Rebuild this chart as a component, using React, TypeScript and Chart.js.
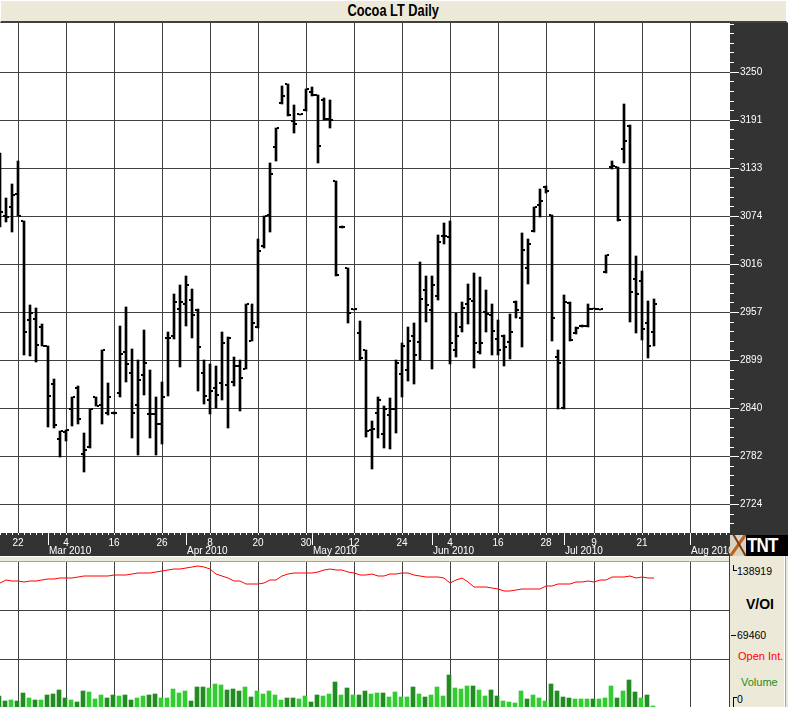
import React, { useEffect, useRef } from "react";
import { Chart, registerables } from "chart.js";

Chart.register(...registerables);

// ---------- DATA ----------
// trading-day index 0 = 17 Feb 2010 (one bar per session)
const openPrices = [
  3100, 3074, 3086, 3101, 3068, 2948, 2949, 2940, 2917, 2870,
  2803, 2812, 2840, 2865, 2785, 2794, 2855, 2845, 2835, 2835,
  2859, 2909, 2884, 2845, 2881, 2834, 2834, 2821, 2926, 2928,
  2962, 2968, 2972, 2960, 2884, 2851, 2865, 2872, 2869, 2873,
  2892, 2889, 2922, 2940, 3038, 3076, 3159, 3212, 3235, 3190,
  3198, 3203, 3225, 3222, 3216, 3192, 3117, 3061, 3011, 2961,
  2932, 2912, 2814, 2835, 2809, 2832, 2840, 2882, 2887, 2928,
  2921, 2985, 2960, 2977, 3050, 3049, 2911, 2940, 2967, 2971,
  2909, 2958, 2954, 2925, 2929, 2921, 2970, 2951, 3011, 3056,
  3088, 3110, 3076, 2903, 2841, 2969, 2932, 2941, 2941, 2962,
  2961, 3007, 3134, 3134, 3156, 3184, 2998, 2996, 2945, 2934,
];
const highPrices = [
  3151, 3096, 3114, 3141, 3068, 2966, 2963, 2943, 2917, 2876,
  2813, 2814, 2855, 2868, 2811, 2840, 2855, 2911, 2872, 2836,
  2941, 2964, 2913, 2899, 2936, 2887, 2855, 2873, 2933, 2980,
  2991, 3001, 2986, 2962, 2900, 2895, 2892, 2934, 2927, 2903,
  2900, 2968, 2968, 3046, 3074, 3139, 3182, 3233, 3235, 3210,
  3199, 3229, 3232, 3222, 3218, 3215, 3117, 3062, 3011, 2962,
  2947, 2912, 2825, 2855, 2843, 2853, 2900, 2920, 2940, 2944,
  3019, 3001, 3001, 3051, 3066, 3069, 2957, 2970, 2992, 3005,
  3000, 2984, 2967, 2948, 2930, 2955, 2971, 3054, 3046, 3085,
  3107, 3111, 3076, 2911, 2978, 2970, 2939, 2942, 2968, 2963,
  2962, 3027, 3142, 3134, 3211, 3185, 3026, 3008, 2971, 2973,
];
const lowPrices = [
  3061, 3067, 3055, 3074, 2906, 2904, 2897, 2916, 2818, 2817,
  2782, 2801, 2819, 2821, 2763, 2792, 2844, 2821, 2833, 2834,
  2855, 2873, 2805, 2784, 2857, 2805, 2784, 2797, 2856, 2925,
  2891, 2941, 2926, 2862, 2846, 2834, 2841, 2851, 2817, 2868,
  2837, 2888, 2922, 2938, 3036, 3055, 3141, 3211, 3196, 3176,
  3197, 3202, 3221, 3139, 3191, 3181, 3001, 3060, 2945, 2960,
  2900, 2806, 2767, 2805, 2792, 2791, 2811, 2855, 2874, 2870,
  2900, 2946, 2889, 2972, 3040, 2895, 2903, 2933, 2943, 2890,
  2907, 2934, 2906, 2905, 2892, 2901, 2950, 2915, 2992, 3055,
  3073, 3103, 2922, 2840, 2840, 2923, 2931, 2940, 2939, 2961,
  2960, 3005, 3132, 3068, 3139, 2946, 2932, 2924, 2902, 2917,
];
const closePrices = [
  3080, 3073, 3100, 3074, 2933, 2957, 2918, 2917, 2856, 2820,
  2813, 2814, 2855, 2828, 2790, 2840, 2844, 2911, 2855, 2835,
  2907, 2894, 2835, 2875, 2896, 2834, 2822, 2855, 2926, 2970,
  2970, 2991, 2954, 2915, 2856, 2862, 2857, 2920, 2926, 2892,
  2878, 2967, 2944, 3032, 3074, 3126, 3182, 3220, 3197, 3186,
  3198, 3229, 3222, 3160, 3192, 3191, 3003, 3061, 2957, 2961,
  2902, 2813, 2816, 2851, 2840, 2840, 2896, 2917, 2923, 2905,
  2974, 2966, 2991, 3043, 3050, 2920, 2929, 2963, 2974, 2920,
  2920, 2955, 2935, 2911, 2915, 2933, 2960, 3033, 3041, 3085,
  3093, 3105, 2950, 2896, 2970, 2924, 2938, 2941, 2962, 2962,
  2961, 3027, 3135, 3070, 3166, 2982, 2980, 2937, 2917, 2968,
];
const openInterest = [
  123700, 126700, 126000, 126000, 124700, 126000, 126000, 126700, 127700, 127700,
  129300, 128700, 128700, 129700, 130700, 130700, 130700, 130700, 130700, 131700,
  131700, 132300, 133300, 134300, 133700, 133700, 134700, 136000, 136700, 137700,
  137700, 138700, 140300, 141300, 139700, 138000, 133300, 131300, 128700, 126000,
  125700, 122700, 122700, 122700, 124000, 126700, 127000, 131000, 133000, 133700,
  133700, 133700, 133700, 135300, 136700, 137700, 136700, 136700, 135300, 134300,
  132000, 132000, 132700, 131000, 131000, 132700, 132700, 134000, 133700, 132000,
  131000, 129700, 130300, 129700, 128700, 124000, 127300, 128700, 125300, 120300,
  120300, 119700, 118700, 117700, 116000, 116000, 116700, 117700, 117700, 117700,
  117700, 120700, 120700, 123300, 122700, 123300, 125000, 125000, 126000, 125000,
  126700, 127300, 129700, 129700, 129700, 131000, 129000, 129700, 128700, 128700,
];
const volume = [
  10700, 5700, 6700, 5700, 13700, 8700, 6700, 6700, 11700, 12700,
  16700, 8700, 6700, 4700, 15700, 14700, 7700, 11700, 8700, 11700,
  10700, 11700, 6700, 8700, 10700, 11700, 12700, 8700, 8700, 17700,
  13700, 15700, 5700, 19700, 19700, 18700, 22700, 21700, 16700, 17700,
  15700, 19700, 9700, 15700, 12700, 15700, 11700, 6700, 8700, 8700,
  7700, 10700, 4700, 11700, 10700, 12700, 24700, 11700, 18700, 11700,
  11700, 15700, 12700, 13700, 13700, 9700, 14700, 9700, 9700, 19700,
  12700, 9700, 11700, 19700, 10700, 31700, 18700, 17700, 20700, 20700,
  16700, 10700, 16700, 10700, 5700, 4700, 3700, 15700, 7700, 11700,
  8700, 5700, 22700, 15700, 9700, 8700, 7700, 7700, 7700, 7700,
  7700, 8700, 20700, 8700, 15700, 26700, 14700, 8700, 11700, 700,
];
// 1 = up-volume session (light green), 0 = down-volume session (dark green)
const volumeUp = [
  0, 0, 1, 0, 0, 1, 0, 1, 0, 0,
  0, 0, 1, 0, 0, 1, 1, 1, 0, 0,
  1, 0, 0, 1, 1, 0, 0, 1, 1, 1,
  1, 1, 0, 0, 0, 1, 1, 1, 0, 0,
  0, 1, 0, 1, 1, 1, 1, 1, 0, 0,
  1, 1, 0, 0, 1, 1, 0, 1, 0, 1,
  0, 0, 1, 1, 0, 1, 1, 1, 1, 0,
  1, 0, 1, 1, 1, 0, 1, 1, 1, 0,
  1, 1, 0, 0, 1, 1, 1, 1, 0, 1,
  1, 1, 0, 0, 0, 0, 1, 1, 1, 0,
  1, 1, 1, 0, 1, 0, 0, 1, 0, 1,
];

// axis labels
const dayTickIndices = [3, 11, 19, 27, 35, 43, 51, 59, 67, 75, 83, 91, 99, 107, 115];
const dayTickLabels = ["22", "4", "16", "26", "8", "20", "30", "12", "24", "4", "16", "28", "9", "21", ""];
const monthStartIndices = [8, 31, 52, 72, 94, 115];
const monthLabels = ["Mar 2010", "Apr 2010", "May 2010", "Jun 2010", "Jul 2010", "Aug 2010"];
const priceTicks = [2724, 2782.44, 2840.89, 2899.33, 2957.78, 3016.22, 3074.67, 3133.11, 3191.56, 3250];
const priceTickLabels = ["2724", "2782", "2840", "2899", "2957", "3016", "3074", "3133", "3191", "3250"];

// ---------- STYLE ----------
const FONT = "'Liberation Sans', Arial, sans-serif";
const DARK = "#333333";
const BEIGE = "#ECE9D8";
const GRID = "#404040";

const pricePanel = {
  id: "pricePanel",
  beforeDraw(chart: any) {
    const { ctx, chartArea: a } = chart;
    ctx.save();
    ctx.fillStyle = DARK;
    ctx.fillRect(0, 0, chart.width, chart.height);
    ctx.fillStyle = "#ffffff";
    ctx.fillRect(a.left, a.top, a.right - a.left, a.bottom - a.top);
    ctx.restore();
  },
  afterDraw(chart: any) {
    const { ctx, chartArea: a, scales } = chart;
    const xs = scales.x;
    const ys = scales.y;
    ctx.save();
    ctx.strokeStyle = "#ffffff";
    ctx.lineWidth = 1;
    ctx.beginPath();
    const step = (priceTicks[priceTicks.length - 1] - priceTicks[0]) / (priceTicks.length - 1) / 5;
    for (let k = -10; k < 80; k++) {
      const v = priceTicks[0] + k * step;
      if (v < ys.min || v > ys.max) continue;
      const y = Math.round(ys.getPixelForValue(v)) + 0.5;
      ctx.moveTo(a.right, y);
      ctx.lineTo(a.right + 4, y);
    }
    for (let i = Math.ceil(xs.min); i <= xs.max; i++) {
      const x = Math.round(xs.getPixelForValue(i)) + 0.5;
      ctx.moveTo(x, a.bottom);
      ctx.lineTo(x, a.bottom + 2);
    }
    monthStartIndices.forEach((i) => {
      const x = Math.round(xs.getPixelForValue(i)) + 0.5;
      ctx.moveTo(x, a.bottom);
      ctx.lineTo(x, a.bottom + 12);
    });
    ctx.stroke();
    ctx.fillStyle = "#ffffff";
    ctx.font = `10px ${FONT}`;
    ctx.textAlign = "left";
    ctx.textBaseline = "alphabetic";
    monthStartIndices.forEach((i, k) => {
      const x = Math.round(xs.getPixelForValue(i)) + 1;
      ctx.fillText(monthLabels[k], x, a.bottom + 21);
    });
    ctx.restore();
  },
};

export default function App() {
  const priceRef = useRef<HTMLCanvasElement>(null);
  const voiRef = useRef<HTMLCanvasElement>(null);

  useEffect(() => {
    const charts: Chart[] = [];
    const hl = highPrices.map((h, i) => ({ x: i, y: [lowPrices[i], h] }));
    const op = openPrices.map((v, i) => ({ x: i - 1 / 3, y: v }));
    const cl = closePrices.map((v, i) => ({ x: i + 1 / 3, y: v }));
    const tickPoint = {
      type: "line" as const,
      showLine: false,
      pointStyle: "line" as const,
      pointRadius: 1,
      pointBorderWidth: 2,
      pointBorderColor: "#000",
      pointBackgroundColor: "#000",
      borderColor: "#000",
    };
    if (priceRef.current) {
      charts.push(
        new Chart(priceRef.current, {
          type: "bar",
          data: {
            datasets: [
              { type: "bar", data: hl as any, backgroundColor: "#000", borderWidth: 0, barThickness: 2 },
              { ...tickPoint, data: op as any },
              { ...tickPoint, data: cl as any },
            ],
          },
          options: {
            animation: false,
            responsive: false,
            devicePixelRatio: 1,
            events: [],
            layout: { padding: 0, autoPadding: false },
            plugins: { legend: { display: false }, tooltip: { enabled: false } },
            scales: {
              x: {
                type: "linear",
                min: 0,
                max: 121.6667,
                offset: false,
                alignToPixels: true,
                border: { display: false },
                grid: { color: GRID, lineWidth: 1, drawTicks: false, offset: false },
                ticks: {
                  color: "#fff",
                  font: { family: FONT, size: 10 },
                  padding: 4,
                  autoSkip: false,
                  maxRotation: 0,
                  minRotation: 0,
                  callback: (v: any) => {
                    const k = dayTickIndices.indexOf(Number(v));
                    return k >= 0 ? dayTickLabels[k] : "";
                  },
                },
                afterBuildTicks: (s: any) => {
                  s.ticks = dayTickIndices.map((v) => ({ value: v }));
                },
                afterFit: (s: any) => {
                  s.height = 23;
                  s.paddingLeft = 0;
                  s.paddingRight = 0;
                },
              },
              y: {
                type: "linear",
                position: "right",
                min: 2689,
                max: 3309.25,
                alignToPixels: true,
                border: { display: false },
                grid: { color: GRID, lineWidth: 1, drawTicks: true, tickLength: 9, tickColor: "#fff" },
                ticks: {
                  color: "#fff",
                  font: { family: FONT, size: 10 },
                  padding: 1,
                  callback: (v: any) => {
                    const k = priceTicks.indexOf(Number(v));
                    return k >= 0 ? priceTickLabels[k] : "";
                  },
                },
                afterBuildTicks: (s: any) => {
                  s.ticks = priceTicks.map((v) => ({ value: v }));
                },
                afterFit: (s: any) => {
                  s.width = 58;
                  s.paddingTop = 0;
                  s.paddingBottom = 0;
                },
              },
            },
          },
          plugins: [pricePanel],
        })
      );
    }
    if (voiRef.current) {
      const oi = openInterest.map((v, i) => ({ x: i, y: v }));
      const vol = volume.map((v, i) => ({ x: i - 1 / 6, y: v }));
      charts.push(
        new Chart(voiRef.current, {
          type: "bar",
          data: {
            datasets: [
              {
                type: "line",
                data: oi as any,
                borderColor: "#ff0000",
                borderWidth: 1,
                pointRadius: 0,
                tension: 0,
              },
              {
                type: "bar",
                data: vol as any,
                backgroundColor: volumeUp.map((u) => (u ? "#33CC33" : "#228B22")),
                borderWidth: 0,
                barThickness: 4,
              },
            ],
          },
          options: {
            animation: false,
            responsive: false,
            devicePixelRatio: 1,
            events: [],
            layout: { padding: 0, autoPadding: false },
            plugins: { legend: { display: false }, tooltip: { enabled: false } },
            scales: {
              x: {
                type: "linear",
                min: 0,
                max: 121.5,
                offset: false,
                alignToPixels: true,
                border: { display: false },
                grid: { color: GRID, lineWidth: 1, drawTicks: false, offset: false },
                ticks: { display: false },
                afterBuildTicks: (s: any) => {
                  s.ticks = dayTickIndices.map((v) => ({ value: v }));
                },
                afterFit: (s: any) => {
                  s.height = 0;
                },
              },
              y: {
                type: "linear",
                position: "right",
                min: 0,
                max: 145000,
                alignToPixels: true,
                border: { display: false },
                grid: { color: GRID, lineWidth: 1, drawTicks: false },
                ticks: { display: false },
                afterBuildTicks: (s: any) => {
                  s.ticks = [{ value: 145000 / 3 }, { value: (145000 * 2) / 3 }];
                },
                afterFit: (s: any) => {
                  s.width = 0;
                },
              },
            },
          },
        })
      );
    }
    return () => charts.forEach((c) => c.destroy());
  }, []);

  const lbl = (top: number, left: number, extra: React.CSSProperties, text: string) => (
    <div style={{ position: "absolute", top, left, lineHeight: "12px", whiteSpace: "nowrap", ...extra }}>{text}</div>
  );

  return (
    <div style={{ position: "fixed", left: 0, top: 0, width: 788, height: 707, background: "#fff", overflow: "hidden", fontFamily: FONT }}>
      <div
        style={{
          position: "absolute", left: 0, top: 0, width: 788, height: 23, boxSizing: "border-box",
          background: BEIGE, borderTop: "1px solid #fff", borderLeft: "1px solid #fff", borderRight: "2px solid #fff",
          borderBottom: "2px solid #404040", display: "flex", alignItems: "center", justifyContent: "center",
          color: "#000",
        }}
      >
        <span style={{ font: `bold 16px ${FONT}`, display: "inline-block", transform: "scaleX(0.8)", lineHeight: "18px" }}>Cocoa LT Daily</span>
      </div>
      <canvas ref={priceRef} width={788} height={533} style={{ position: "absolute", left: 0, top: 23, display: "block" }} />
      <div style={{ position: "absolute", left: 730, top: 535, width: 58, height: 21, background: "#000", display: "flex", alignItems: "center", overflow: "hidden" }}>
        <div style={{ width: 16, height: 21, background: "#d9d2c2", position: "relative", overflow: "hidden", flex: "none" }}>
          <div style={{ position: "absolute", left: 6, top: -3, width: 3, height: 28, background: "#c0601a", transform: "rotate(35deg)" }} />
          <div style={{ position: "absolute", left: 9, top: -3, width: 2, height: 28, background: "#7a3a10", transform: "rotate(-30deg)" }} />
        </div>
        <span style={{ color: "#fff", font: `bold 20px ${FONT}`, display: "inline-block", transform: "scaleX(0.85)", transformOrigin: "left center", letterSpacing: -1, marginLeft: 1, lineHeight: "21px" }}>TNT</span>
      </div>
      <div style={{ position: "absolute", left: 0, top: 556, width: 729, height: 6, boxSizing: "border-box", background: BEIGE, borderTop: "1px solid #fff", borderBottom: "1px solid #a8a390" }} />
      <canvas ref={voiRef} width={729} height={145} style={{ position: "absolute", left: 0, top: 562, display: "block" }} />
      <div style={{ position: "absolute", left: 729, top: 556, width: 59, height: 151, boxSizing: "border-box", background: BEIGE, borderLeft: "1px solid #404040" }}>
        <div style={{ position: "absolute", left: 54, top: 0, width: 1, height: 151, background: "#fff" }} />
        <div style={{ position: "absolute", left: 55, top: 0, width: 1, height: 151, background: "#a8a390" }} />
        <div style={{ position: "absolute", left: 3, top: 9, width: 3, height: 5, borderLeft: "1px solid #000", borderBottom: "1px solid #000" }} />
        {lbl(9, 7, { fontSize: 10.5, color: "#000" }, "138919")}
        {lbl(41, 16, { fontSize: 14, fontWeight: "bold", color: "#000", lineHeight: "14px" }, "V/OI")}
        <div style={{ position: "absolute", left: 1, top: 79, width: 5, height: 1, background: "#000" }} />
        {lbl(73, 7, { fontSize: 10.5, color: "#000" }, "69460")}
        {lbl(94, 8, { fontSize: 11, color: "#ff0000" }, "Open Int.")}
        {lbl(120, 11, { fontSize: 11, color: "#228B22" }, "Volume")}
        <div style={{ position: "absolute", left: 3, top: 141, width: 3, height: 11, borderLeft: "1px solid #000", borderTop: "1px solid #000" }} />
        {lbl(137, 7, { fontSize: 10.5, color: "#000" }, "0")}
      </div>
    </div>
  );
}
